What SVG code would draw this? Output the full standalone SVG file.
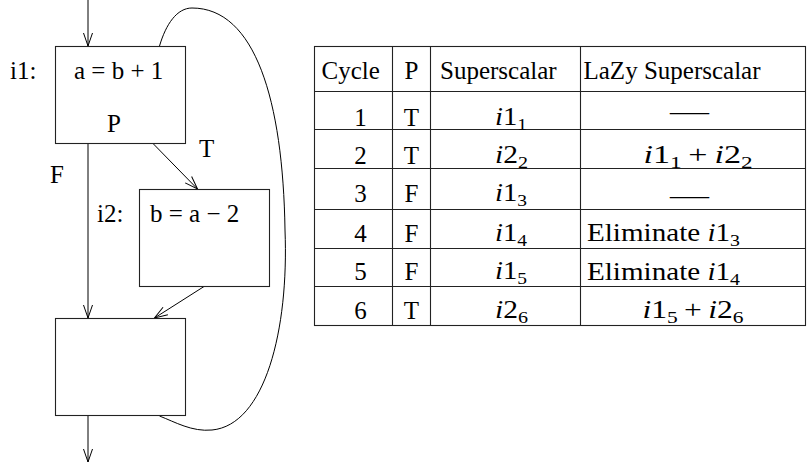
<svg xmlns="http://www.w3.org/2000/svg" width="809" height="463" viewBox="0 0 809 463">
<style>
text{font-family:"Liberation Serif","Times New Roman",serif;font-size:25px;fill:#000}
.box{fill:#fff;stroke:#222;stroke-width:1.1}
.edge{fill:none;stroke:#000;stroke-width:1}
.grid{stroke:#222;stroke-width:1.1;fill:none}
.m{text-anchor:middle}
.it{font-style:italic}
.sub{font-size:17px}
</style>
<defs>
<marker id="ah" markerUnits="userSpaceOnUse" markerWidth="16" markerHeight="12" viewBox="-14 -6 16 12" refX="0" refY="0" orient="auto">
<path d="M-13,-4.5 L0,0 L-13,4.5" fill="none" stroke="#000" stroke-width="1"/>
</marker>
</defs>
<g id="connectors">
<line class="edge" x1="88" y1="0" x2="88" y2="46" marker-end="url(#ah)"/>
<line class="edge" x1="88" y1="143.5" x2="88" y2="318" marker-end="url(#ah)"/>
<line class="edge" x1="153" y1="143.5" x2="197.5" y2="189" marker-end="url(#ah)"/>
<line class="edge" x1="204" y1="286.5" x2="154.5" y2="318" marker-end="url(#ah)"/>
<line class="edge" x1="88" y1="415.5" x2="88" y2="462" marker-end="url(#ah)"/>
<path class="edge" d="M159.5,46 C166,24 177,8 192,8 C255,8 283,100 285,230 C289,330 265,425 212,430 C192,432 175,422 159.5,416"/>
<text x="199" y="157">T</text>
<text x="50" y="183">F</text>
</g>
<g id="i1">
<rect class="box" x="55.5" y="46.5" width="130" height="97"/>
<text x="10" y="79">i1:</text>
<text x="74" y="79">a = b + 1</text>
<text x="107" y="132">P</text>
</g>
<g id="i2">
<rect class="box" x="139.5" y="189.5" width="130" height="97"/>
<text x="97" y="222">i2:</text>
<text x="150" y="222">b = a − 2</text>
</g>
<g id="join">
<rect class="box" x="55.5" y="318.5" width="130" height="97"/>
</g>
<g id="table">
<rect class="grid" x="314.5" y="46.5" width="491" height="279"/>
<path class="grid" d="M392.5,46.5V325.5M430.5,46.5V325.5M580.5,46.5V325.5M314.5,91.5H805.5M314.5,129.5H805.5M314.5,168.5H805.5M314.5,209.5H805.5M314.5,248.5H805.5M314.5,286.5H805.5"/>
<text x="321.5" y="78.5">Cycle</text>
<text class="m" x="411.5" y="78.5">P</text>
<text x="440" y="78.5">Superscalar</text>
<text x="583.5" y="78.5">LaZy Superscalar</text>

<text class="m" x="360.5" y="126">1</text>
<text class="m" x="411.5" y="126">T</text>
<text class="m" x="511" y="125" textLength="32" lengthAdjust="spacingAndGlyphs"><tspan class="it">i</tspan>1<tspan class="sub" dy="5">1</tspan></text>
<text x="670" y="120" textLength="39" lengthAdjust="spacingAndGlyphs">—</text>

<text class="m" x="360.5" y="163.5">2</text>
<text class="m" x="411.5" y="163.5">T</text>
<text class="m" x="511.5" y="162.5" textLength="33" lengthAdjust="spacingAndGlyphs"><tspan class="it">i</tspan>2<tspan class="sub" dy="5">2</tspan></text>
<text class="m" x="698" y="162.5" textLength="109" lengthAdjust="spacingAndGlyphs"><tspan class="it">i</tspan>1<tspan class="sub" dy="5">1</tspan><tspan dy="-5" dx="5">+</tspan><tspan class="it" dx="5">i</tspan>2<tspan class="sub" dy="5">2</tspan></text>

<text class="m" x="360.5" y="201.5">3</text>
<text class="m" x="411.5" y="201.5">F</text>
<text class="m" x="511" y="200.5" textLength="32" lengthAdjust="spacingAndGlyphs"><tspan class="it">i</tspan>1<tspan class="sub" dy="5">3</tspan></text>
<text x="670" y="204" textLength="39" lengthAdjust="spacingAndGlyphs">—</text>

<text class="m" x="360.5" y="241.5">4</text>
<text class="m" x="411.5" y="241.5">F</text>
<text class="m" x="511" y="240.5" textLength="32" lengthAdjust="spacingAndGlyphs"><tspan class="it">i</tspan>1<tspan class="sub" dy="5">4</tspan></text>
<text x="587" y="241" textLength="153" lengthAdjust="spacingAndGlyphs">Eliminate <tspan class="it">i</tspan>1<tspan class="sub" dy="5">3</tspan></text>

<text class="m" x="360.5" y="280">5</text>
<text class="m" x="411.5" y="280">F</text>
<text class="m" x="511" y="279" textLength="32" lengthAdjust="spacingAndGlyphs"><tspan class="it">i</tspan>1<tspan class="sub" dy="5">5</tspan></text>
<text x="587" y="279.5" textLength="153" lengthAdjust="spacingAndGlyphs">Eliminate <tspan class="it">i</tspan>1<tspan class="sub" dy="5">4</tspan></text>

<text class="m" x="360.5" y="318.5">6</text>
<text class="m" x="411.5" y="318.5">T</text>
<text class="m" x="511.5" y="317.5" textLength="33" lengthAdjust="spacingAndGlyphs"><tspan class="it">i</tspan>2<tspan class="sub" dy="5">6</tspan></text>
<text class="m" x="693" y="317.5" textLength="101" lengthAdjust="spacingAndGlyphs"><tspan class="it">i</tspan>1<tspan class="sub" dy="5">5</tspan><tspan dy="-5" dx="5">+</tspan><tspan class="it" dx="5">i</tspan>2<tspan class="sub" dy="5">6</tspan></text>
</g>
</svg>
